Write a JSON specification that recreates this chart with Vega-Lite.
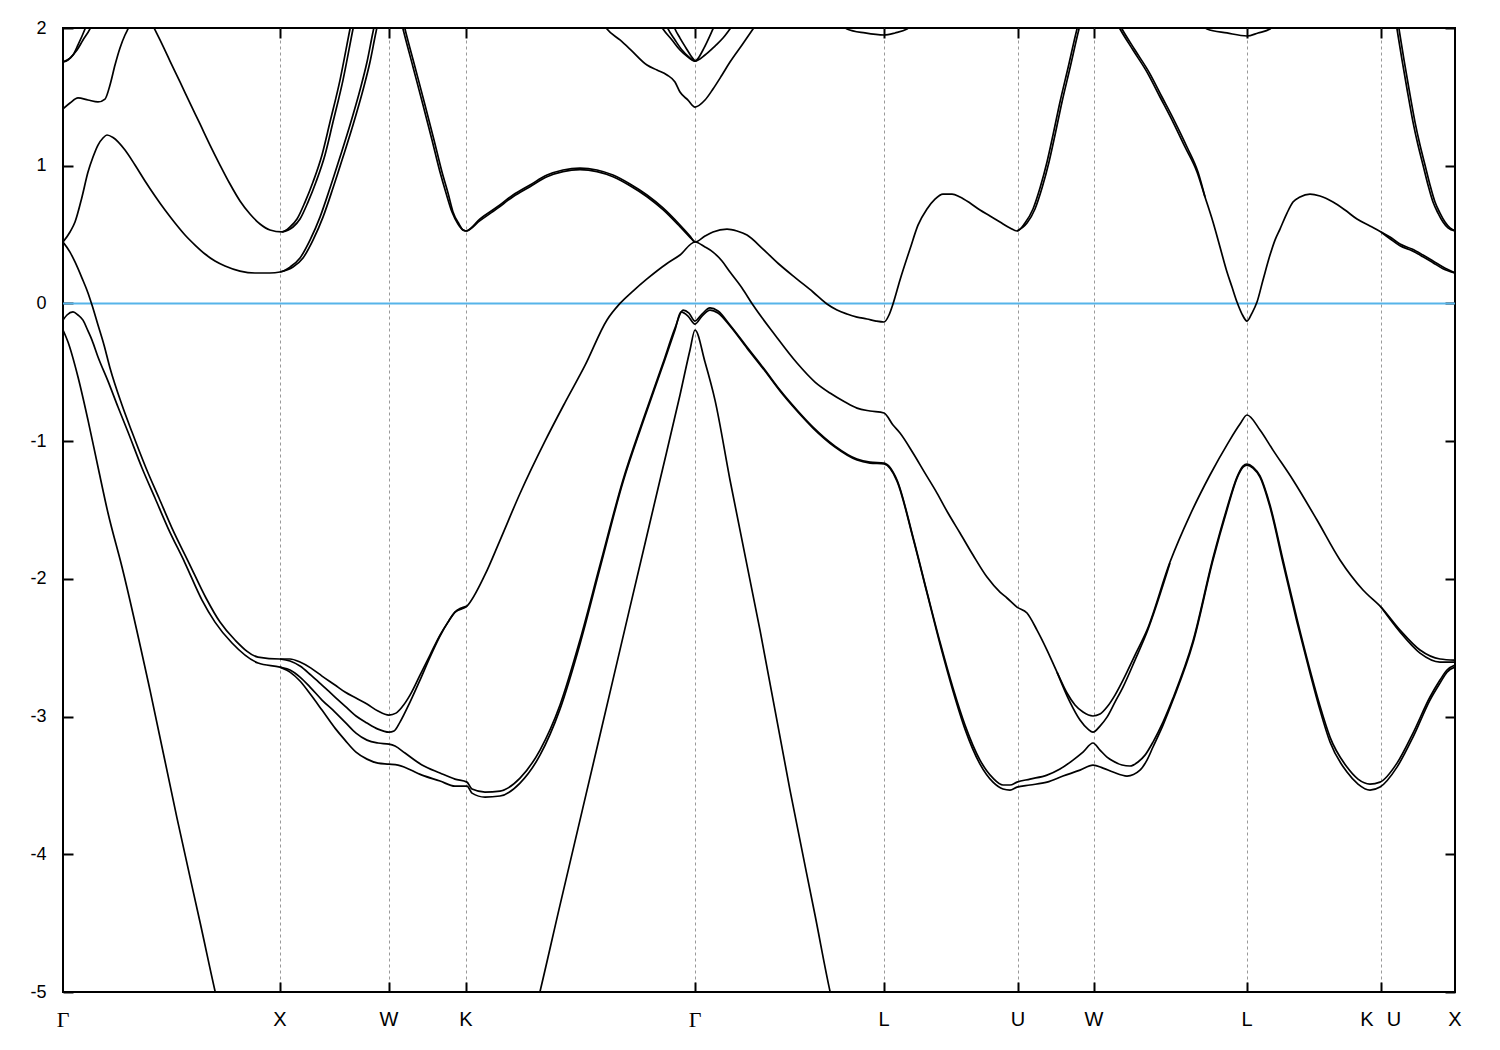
{
"$schema": "https://vega.github.io/schema/vega-lite/v6.json",
"width": 1392, "height": 964,
"autosize": {"type": "none"},
"padding": {"left": 63, "top": 28, "right": 45, "bottom": 58},
"background": "white",
"config": {"view": {"stroke": "#000000", "strokeWidth": 2}},
"data": {"values": [
{"s":"v1","k":0,"E":-0.193},{"s":"v1","k":5,"E":-0.280},{"s":"v1","k":15,"E":-0.534},{"s":"v1","k":25,"E":-0.847},{"s":"v1","k":35,"E":-1.188},{"s":"v1","k":45,"E":-1.522},{"s":"v1","k":59,"E":-1.914},{"s":"v1","k":87,"E":-2.808},{"s":"v1","k":114,"E":-3.737},{"s":"v1","k":137,"E":-4.492},{"s":"v1","k":157,"E":-5.146},{"s":"v1","k":320,"E":-7.5},{"s":"v1","k":472,"E":-5.146},{"s":"v1","k":497,"E":-4.369},{"s":"v1","k":537,"E":-3.134},{"s":"v1","k":567,"E":-2.205},{"s":"v1","k":597,"E":-1.282},{"s":"v1","k":617,"E":-0.665},{"s":"v1","k":627,"E":-0.338},{"s":"v1","k":632,"E":-0.193},{"s":"v1","k":642,"E":-0.426},{"s":"v1","k":652,"E":-0.702},{"s":"v1","k":667,"E":-1.282},{"s":"v1","k":697,"E":-2.372},{"s":"v1","k":727,"E":-3.534},{"s":"v1","k":752,"E":-4.441},{"s":"v1","k":769,"E":-5.059},{"s":"v1","k":782,"E":-5.4},
{"s":"v2","k":0,"E":-0.121},{"s":"v2","k":4,"E":-0.084},{"s":"v2","k":10,"E":-0.062},{"s":"v2","k":15,"E":-0.084},{"s":"v2","k":20,"E":-0.121},{"s":"v2","k":25,"E":-0.200},{"s":"v2","k":29,"E":-0.266},{"s":"v2","k":35,"E":-0.389},{"s":"v2","k":45,"E":-0.564},{"s":"v2","k":55,"E":-0.752},{"s":"v2","k":65,"E":-0.934},{"s":"v2","k":79,"E":-1.195},{"s":"v2","k":92,"E":-1.413},{"s":"v2","k":105,"E":-1.631},{"s":"v2","k":122,"E":-1.885},{"s":"v2","k":139,"E":-2.154},{"s":"v2","k":152,"E":-2.314},{"s":"v2","k":169,"E":-2.466},{"s":"v2","k":195,"E":-2.611},{"s":"v2","k":217,"E":-2.641},{"s":"v2","k":227,"E":-2.662},{"s":"v2","k":237,"E":-2.713},{"s":"v2","k":248,"E":-2.793},{"s":"v2","k":259,"E":-2.880},{"s":"v2","k":272,"E":-2.967},{"s":"v2","k":282,"E":-3.040},{"s":"v2","k":293,"E":-3.120},{"s":"v2","k":304,"E":-3.171},{"s":"v2","k":315,"E":-3.192},{"s":"v2","k":326,"E":-3.200},{"s":"v2","k":332,"E":-3.214},{"s":"v2","k":342,"E":-3.265},{"s":"v2","k":359,"E":-3.352},{"s":"v2","k":377,"E":-3.410},{"s":"v2","k":392,"E":-3.454},{"s":"v2","k":404,"E":-3.476},{"s":"v2","k":409,"E":-3.526},{"s":"v2","k":422,"E":-3.548},{"s":"v2","k":437,"E":-3.541},{"s":"v2","k":457,"E":-3.447},{"s":"v2","k":477,"E":-3.243},{"s":"v2","k":497,"E":-2.916},{"s":"v2","k":517,"E":-2.444},{"s":"v2","k":537,"E":-1.900},{"s":"v2","k":560,"E":-1.282},{"s":"v2","k":580,"E":-0.847},{"s":"v2","k":600,"E":-0.433},{"s":"v2","k":612,"E":-0.179},{"s":"v2","k":620,"E":-0.048},{"s":"v2","k":626,"E":-0.070},{"s":"v2","k":632,"E":-0.128},{"s":"v2","k":639,"E":-0.077},{"s":"v2","k":647,"E":-0.033},{"s":"v2","k":655,"E":-0.055},{"s":"v2","k":667,"E":-0.157},{"s":"v2","k":684,"E":-0.317},{"s":"v2","k":702,"E":-0.484},{"s":"v2","k":717,"E":-0.629},{"s":"v2","k":734,"E":-0.774},{"s":"v2","k":750,"E":-0.898},{"s":"v2","k":772,"E":-1.036},{"s":"v2","k":794,"E":-1.130},{"s":"v2","k":807,"E":-1.152},{"s":"v2","k":821,"E":-1.159},{"s":"v2","k":834,"E":-1.282},{"s":"v2","k":850,"E":-1.696},{"s":"v2","k":864,"E":-2.096},{"s":"v2","k":877,"E":-2.459},{"s":"v2","k":890,"E":-2.793},{"s":"v2","k":902,"E":-3.062},{"s":"v2","k":917,"E":-3.316},{"s":"v2","k":930,"E":-3.447},{"s":"v2","k":940,"E":-3.497},{"s":"v2","k":947,"E":-3.497},{"s":"v2","k":954,"E":-3.476},{"s":"v2","k":967,"E":-3.454},{"s":"v2","k":984,"E":-3.425},{"s":"v2","k":997,"E":-3.381},{"s":"v2","k":1010,"E":-3.316},{"s":"v2","k":1020,"E":-3.258},{"s":"v2","k":1030,"E":-3.192},{"s":"v2","k":1037,"E":-3.243},{"s":"v2","k":1044,"E":-3.294},{"s":"v2","k":1050,"E":-3.323},{"s":"v2","k":1059,"E":-3.352},{"s":"v2","k":1067,"E":-3.359},{"s":"v2","k":1075,"E":-3.330},{"s":"v2","k":1082,"E":-3.280},{"s":"v2","k":1090,"E":-3.185},{"s":"v2","k":1100,"E":-3.040},{"s":"v2","k":1110,"E":-2.866},{"s":"v2","k":1130,"E":-2.452},{"s":"v2","k":1150,"E":-1.849},{"s":"v2","k":1164,"E":-1.486},{"s":"v2","k":1174,"E":-1.261},{"s":"v2","k":1180,"E":-1.181},{"s":"v2","k":1184,"E":-1.166},{"s":"v2","k":1190,"E":-1.188},{"s":"v2","k":1197,"E":-1.253},{"s":"v2","k":1207,"E":-1.464},{"s":"v2","k":1220,"E":-1.863},{"s":"v2","k":1234,"E":-2.292},{"s":"v2","k":1247,"E":-2.662},{"s":"v2","k":1257,"E":-2.924},{"s":"v2","k":1267,"E":-3.149},{"s":"v2","k":1284,"E":-3.367},{"s":"v2","k":1295,"E":-3.454},{"s":"v2","k":1307,"E":-3.490},{"s":"v2","k":1317,"E":-3.476},{"s":"v2","k":1334,"E":-3.338},{"s":"v2","k":1350,"E":-3.120},{"s":"v2","k":1367,"E":-2.858},{"s":"v2","k":1377,"E":-2.735},{"s":"v2","k":1384,"E":-2.662},{"s":"v2","k":1392,"E":-2.626},
{"s":"v3","k":217,"E":-2.641},{"s":"v3","k":227,"E":-2.677},{"s":"v3","k":237,"E":-2.742},{"s":"v3","k":248,"E":-2.844},{"s":"v3","k":259,"E":-2.953},{"s":"v3","k":272,"E":-3.084},{"s":"v3","k":282,"E":-3.171},{"s":"v3","k":293,"E":-3.258},{"s":"v3","k":304,"E":-3.309},{"s":"v3","k":315,"E":-3.338},{"s":"v3","k":326,"E":-3.345},{"s":"v3","k":335,"E":-3.352},{"s":"v3","k":359,"E":-3.425},{"s":"v3","k":377,"E":-3.468},{"s":"v3","k":392,"E":-3.505},{"s":"v3","k":404,"E":-3.505},{"s":"v3","k":409,"E":-3.556},{"s":"v3","k":422,"E":-3.585},{"s":"v3","k":437,"E":-3.577},{"s":"v3","k":457,"E":-3.483},{"s":"v3","k":477,"E":-3.280},{"s":"v3","k":497,"E":-2.946},{"s":"v3","k":517,"E":-2.473},{"s":"v3","k":537,"E":-1.922},{"s":"v3","k":560,"E":-1.297},{"s":"v3","k":580,"E":-0.861},{"s":"v3","k":600,"E":-0.447},{"s":"v3","k":612,"E":-0.193},{"s":"v3","k":618,"E":-0.062},{"s":"v3","k":625,"E":-0.092},{"s":"v3","k":632,"E":-0.150},{"s":"v3","k":639,"E":-0.092},{"s":"v3","k":647,"E":-0.048},{"s":"v3","k":655,"E":-0.070},{"s":"v3","k":667,"E":-0.164},{"s":"v3","k":684,"E":-0.325},{"s":"v3","k":702,"E":-0.491},{"s":"v3","k":717,"E":-0.636},{"s":"v3","k":734,"E":-0.781},{"s":"v3","k":750,"E":-0.905},{"s":"v3","k":772,"E":-1.043},{"s":"v3","k":794,"E":-1.137},{"s":"v3","k":807,"E":-1.159},{"s":"v3","k":821,"E":-1.166},{"s":"v3","k":834,"E":-1.290},{"s":"v3","k":850,"E":-1.704},{"s":"v3","k":864,"E":-2.103},{"s":"v3","k":877,"E":-2.473},{"s":"v3","k":890,"E":-2.814},{"s":"v3","k":902,"E":-3.091},{"s":"v3","k":917,"E":-3.345},{"s":"v3","k":930,"E":-3.476},{"s":"v3","k":940,"E":-3.526},{"s":"v3","k":947,"E":-3.534},{"s":"v3","k":954,"E":-3.512},{"s":"v3","k":967,"E":-3.497},{"s":"v3","k":984,"E":-3.476},{"s":"v3","k":1000,"E":-3.432},{"s":"v3","k":1017,"E":-3.389},{"s":"v3","k":1030,"E":-3.352},{"s":"v3","k":1040,"E":-3.374},{"s":"v3","k":1050,"E":-3.403},{"s":"v3","k":1064,"E":-3.432},{"s":"v3","k":1077,"E":-3.389},{"s":"v3","k":1084,"E":-3.316},{"s":"v3","k":1090,"E":-3.221},{"s":"v3","k":1100,"E":-3.062},{"s":"v3","k":1110,"E":-2.880},{"s":"v3","k":1130,"E":-2.466},{"s":"v3","k":1150,"E":-1.863},{"s":"v3","k":1164,"E":-1.500},{"s":"v3","k":1174,"E":-1.268},{"s":"v3","k":1180,"E":-1.188},{"s":"v3","k":1184,"E":-1.174},{"s":"v3","k":1190,"E":-1.195},{"s":"v3","k":1197,"E":-1.261},{"s":"v3","k":1207,"E":-1.479},{"s":"v3","k":1220,"E":-1.885},{"s":"v3","k":1234,"E":-2.314},{"s":"v3","k":1247,"E":-2.684},{"s":"v3","k":1257,"E":-2.953},{"s":"v3","k":1267,"E":-3.185},{"s":"v3","k":1284,"E":-3.403},{"s":"v3","k":1295,"E":-3.490},{"s":"v3","k":1307,"E":-3.534},{"s":"v3","k":1317,"E":-3.512},{"s":"v3","k":1334,"E":-3.367},{"s":"v3","k":1350,"E":-3.149},{"s":"v3","k":1367,"E":-2.880},{"s":"v3","k":1377,"E":-2.757},{"s":"v3","k":1384,"E":-2.677},{"s":"v3","k":1392,"E":-2.641},
{"s":"v4","k":0,"E":0.446},{"s":"v4","k":7,"E":0.373},{"s":"v4","k":12,"E":0.301},{"s":"v4","k":19,"E":0.184},{"s":"v4","k":25,"E":0.076},{"s":"v4","k":29,"E":-0.012},{"s":"v4","k":35,"E":-0.157},{"s":"v4","k":41,"E":-0.302},{"s":"v4","k":47,"E":-0.469},{"s":"v4","k":59,"E":-0.738},{"s":"v4","k":69,"E":-0.934},{"s":"v4","k":83,"E":-1.195},{"s":"v4","k":96,"E":-1.413},{"s":"v4","k":109,"E":-1.631},{"s":"v4","k":126,"E":-1.885},{"s":"v4","k":143,"E":-2.139},{"s":"v4","k":157,"E":-2.314},{"s":"v4","k":172,"E":-2.444},{"s":"v4","k":195,"E":-2.568},{"s":"v4","k":217,"E":-2.582},{"s":"v4","k":227,"E":-2.582},{"s":"v4","k":237,"E":-2.604},{"s":"v4","k":248,"E":-2.648},{"s":"v4","k":259,"E":-2.706},{"s":"v4","k":272,"E":-2.771},{"s":"v4","k":282,"E":-2.822},{"s":"v4","k":293,"E":-2.866},{"s":"v4","k":304,"E":-2.909},{"s":"v4","k":315,"E":-2.960},{"s":"v4","k":326,"E":-2.989},{"s":"v4","k":333,"E":-2.975},{"s":"v4","k":339,"E":-2.931},{"s":"v4","k":347,"E":-2.844},{"s":"v4","k":357,"E":-2.699},{"s":"v4","k":367,"E":-2.553},{"s":"v4","k":377,"E":-2.408},{"s":"v4","k":385,"E":-2.314},{"s":"v4","k":392,"E":-2.241},{"s":"v4","k":404,"E":-2.198},{"s":"v4","k":422,"E":-1.97},{"s":"v4","k":437,"E":-1.72},{"s":"v4","k":457,"E":-1.38},{"s":"v4","k":482,"E":-1.0},{"s":"v4","k":502,"E":-0.72},{"s":"v4","k":522,"E":-0.45},{"s":"v4","k":544,"E":-0.12},{"s":"v4","k":557,"E":0.0},{"s":"v4","k":570,"E":0.09},{"s":"v4","k":584,"E":0.178},{"s":"v4","k":604,"E":0.29},{"s":"v4","k":617,"E":0.352},{"s":"v4","k":632,"E":0.446},{"s":"v4","k":642,"E":0.410},{"s":"v4","k":650,"E":0.373},{"s":"v4","k":659,"E":0.308},{"s":"v4","k":667,"E":0.228},{"s":"v4","k":679,"E":0.112},{"s":"v4","k":690,"E":-0.012},{"s":"v4","k":712,"E":-0.229},{"s":"v4","k":734,"E":-0.433},{"s":"v4","k":752,"E":-0.571},{"s":"v4","k":767,"E":-0.651},{"s":"v4","k":782,"E":-0.716},{"s":"v4","k":794,"E":-0.760},{"s":"v4","k":807,"E":-0.781},{"s":"v4","k":821,"E":-0.796},{"s":"v4","k":830,"E":-0.883},{"s":"v4","k":837,"E":-0.941},{"s":"v4","k":850,"E":-1.086},{"s":"v4","k":862,"E":-1.232},{"s":"v4","k":874,"E":-1.377},{"s":"v4","k":885,"E":-1.522},{"s":"v4","k":897,"E":-1.667},{"s":"v4","k":910,"E":-1.827},{"s":"v4","k":924,"E":-1.987},{"s":"v4","k":937,"E":-2.096},{"s":"v4","k":944,"E":-2.139},{"s":"v4","k":954,"E":-2.205},{"s":"v4","k":964,"E":-2.248},{"s":"v4","k":974,"E":-2.372},{"s":"v4","k":984,"E":-2.517},{"s":"v4","k":994,"E":-2.677},{"s":"v4","k":1004,"E":-2.829},{"s":"v4","k":1012,"E":-2.916},{"s":"v4","k":1020,"E":-2.967},{"s":"v4","k":1030,"E":-2.996},{"s":"v4","k":1037,"E":-2.982},{"s":"v4","k":1044,"E":-2.931},{"s":"v4","k":1052,"E":-2.844},{"s":"v4","k":1060,"E":-2.735},{"s":"v4","k":1072,"E":-2.553},{"s":"v4","k":1084,"E":-2.372},{"s":"v4","k":1107,"E":-1.878},{"s":"v4","k":1127,"E":-1.537},{"s":"v4","k":1147,"E":-1.246},{"s":"v4","k":1165,"E":-1.014},{"s":"v4","k":1177,"E":-0.876},{"s":"v4","k":1184,"E":-0.810},{"s":"v4","k":1197,"E":-0.919},{"s":"v4","k":1210,"E":-1.065},{"s":"v4","k":1230,"E":-1.282},{"s":"v4","k":1254,"E":-1.573},{"s":"v4","k":1277,"E":-1.863},{"s":"v4","k":1300,"E":-2.081},{"s":"v4","k":1318,"E":-2.205},{"s":"v4","k":1337,"E":-2.372},{"s":"v4","k":1357,"E":-2.517},{"s":"v4","k":1377,"E":-2.582},{"s":"v4","k":1392,"E":-2.590},
{"s":"c2a","k":217,"E":-2.582},{"s":"c2a","k":227,"E":-2.597},{"s":"c2a","k":237,"E":-2.633},{"s":"c2a","k":248,"E":-2.699},{"s":"c2a","k":259,"E":-2.771},{"s":"c2a","k":272,"E":-2.858},{"s":"c2a","k":282,"E":-2.924},{"s":"c2a","k":293,"E":-2.996},{"s":"c2a","k":304,"E":-3.047},{"s":"c2a","k":315,"E":-3.091},{"s":"c2a","k":326,"E":-3.113},{"s":"c2a","k":331,"E":-3.105},{"s":"c2a","k":337,"E":-3.040},{"s":"c2a","k":347,"E":-2.895},{"s":"c2a","k":357,"E":-2.735},{"s":"c2a","k":367,"E":-2.568},{"s":"c2a","k":377,"E":-2.415},{"s":"c2a","k":385,"E":-2.314},{"s":"c2a","k":392,"E":-2.241},{"s":"c2a","k":404,"E":-2.198},
{"s":"c2b","k":994,"E":-2.677},{"s":"c2b","k":1007,"E":-2.895},{"s":"c2b","k":1017,"E":-3.025},{"s":"c2b","k":1025,"E":-3.091},{"s":"c2b","k":1030,"E":-3.113},{"s":"c2b","k":1037,"E":-3.069},{"s":"c2b","k":1044,"E":-3.004},{"s":"c2b","k":1052,"E":-2.895},{"s":"c2b","k":1060,"E":-2.786},{"s":"c2b","k":1072,"E":-2.590},{"s":"c2b","k":1084,"E":-2.386},{"s":"c2b","k":1107,"E":-1.885},
{"s":"c2c","k":1318,"E":-2.205},{"s":"c2c","k":1337,"E":-2.386},{"s":"c2c","k":1357,"E":-2.539},{"s":"c2c","k":1377,"E":-2.604},{"s":"c2c","k":1392,"E":-2.604},
{"s":"A1","k":0,"E":0.446},{"s":"A1","k":7,"E":0.519},{"s":"A1","k":12,"E":0.591},{"s":"A1","k":19,"E":0.773},{"s":"A1","k":25,"E":0.954},{"s":"A1","k":30,"E":1.063},{"s":"A1","k":35,"E":1.150},{"s":"A1","k":40,"E":1.201},{"s":"A1","k":44,"E":1.223},{"s":"A1","k":50,"E":1.205},{"s":"A1","k":62,"E":1.114},{"s":"A1","k":72,"E":1.005},{"s":"A1","k":82,"E":0.889},{"s":"A1","k":92,"E":0.780},{"s":"A1","k":102,"E":0.678},{"s":"A1","k":112,"E":0.584},{"s":"A1","k":122,"E":0.497},{"s":"A1","k":132,"E":0.424},{"s":"A1","k":142,"E":0.359},{"s":"A1","k":152,"E":0.308},{"s":"A1","k":162,"E":0.272},{"s":"A1","k":177,"E":0.235},{"s":"A1","k":192,"E":0.221},{"s":"A1","k":207,"E":0.221},{"s":"A1","k":217,"E":0.228},{"s":"A1","k":227,"E":0.264},{"s":"A1","k":237,"E":0.330},{"s":"A1","k":247,"E":0.460},{"s":"A1","k":257,"E":0.627},{"s":"A1","k":267,"E":0.838},{"s":"A1","k":277,"E":1.063},{"s":"A1","k":287,"E":1.296},{"s":"A1","k":297,"E":1.550},{"s":"A1","k":304,"E":1.753},{"s":"A1","k":310,"E":1.971},{"s":"A1","k":326,"E":2.421},{"s":"A1","k":340,"E":1.993},{"s":"A1","k":350,"E":1.717},{"s":"A1","k":360,"E":1.441},{"s":"A1","k":369,"E":1.187},{"s":"A1","k":377,"E":0.954},{"s":"A1","k":383,"E":0.802},{"s":"A1","k":389,"E":0.664},{"s":"A1","k":395,"E":0.577},{"s":"A1","k":400,"E":0.533},{"s":"A1","k":403,"E":0.526},{"s":"A1","k":417,"E":0.613},{"s":"A1","k":434,"E":0.700},{"s":"A1","k":450,"E":0.787},{"s":"A1","k":467,"E":0.860},{"s":"A1","k":484,"E":0.932},{"s":"A1","k":500,"E":0.969},{"s":"A1","k":517,"E":0.983},{"s":"A1","k":534,"E":0.969},{"s":"A1","k":550,"E":0.932},{"s":"A1","k":567,"E":0.867},{"s":"A1","k":584,"E":0.787},{"s":"A1","k":600,"E":0.693},{"s":"A1","k":617,"E":0.569},{"s":"A1","k":627,"E":0.489},{"s":"A1","k":632,"E":0.446},{"s":"A1","k":642,"E":0.489},{"s":"A1","k":650,"E":0.519},{"s":"A1","k":664,"E":0.540},{"s":"A1","k":674,"E":0.526},{"s":"A1","k":684,"E":0.497},{"s":"A1","k":700,"E":0.395},{"s":"A1","k":717,"E":0.279},{"s":"A1","k":734,"E":0.177},{"s":"A1","k":750,"E":0.083},{"s":"A1","k":764,"E":-0.004},{"s":"A1","k":774,"E":-0.048},{"s":"A1","k":784,"E":-0.077},{"s":"A1","k":794,"E":-0.099},{"s":"A1","k":804,"E":-0.113},{"s":"A1","k":813,"E":-0.128},{"s":"A1","k":821,"E":-0.135},{"s":"A1","k":826,"E":-0.084},{"s":"A1","k":830,"E":-0.004},{"s":"A1","k":837,"E":0.170},{"s":"A1","k":847,"E":0.395},{"s":"A1","k":855,"E":0.569},{"s":"A1","k":864,"E":0.686},{"s":"A1","k":872,"E":0.758},{"s":"A1","k":880,"E":0.794},{"s":"A1","k":889,"E":0.794},{"s":"A1","k":897,"E":0.773},{"s":"A1","k":907,"E":0.729},{"s":"A1","k":917,"E":0.678},{"s":"A1","k":927,"E":0.635},{"s":"A1","k":937,"E":0.591},{"s":"A1","k":947,"E":0.548},{"s":"A1","k":954,"E":0.526},{"s":"A1","k":962,"E":0.584},{"s":"A1","k":970,"E":0.686},{"s":"A1","k":977,"E":0.838},{"s":"A1","k":984,"E":1.027},{"s":"A1","k":990,"E":1.223},{"s":"A1","k":997,"E":1.463},{"s":"A1","k":1005,"E":1.710},{"s":"A1","k":1014,"E":1.993},{"s":"A1","k":1031,"E":2.385},{"s":"A1","k":1057,"E":1.993},{"s":"A1","k":1070,"E":1.840},{"s":"A1","k":1084,"E":1.680},{"s":"A1","k":1097,"E":1.499},{"s":"A1","k":1110,"E":1.317},{"s":"A1","k":1122,"E":1.136},{"s":"A1","k":1134,"E":0.954},{"s":"A1","k":1142,"E":0.773},{"s":"A1","k":1150,"E":0.591},{"s":"A1","k":1157,"E":0.410},{"s":"A1","k":1164,"E":0.228},{"s":"A1","k":1169,"E":0.119},{"s":"A1","k":1174,"E":0.010},{"s":"A1","k":1179,"E":-0.077},{"s":"A1","k":1184,"E":-0.128},{"s":"A1","k":1189,"E":-0.070},{"s":"A1","k":1194,"E":0.010},{"s":"A1","k":1200,"E":0.170},{"s":"A1","k":1207,"E":0.351},{"s":"A1","k":1212,"E":0.460},{"s":"A1","k":1217,"E":0.540},{"s":"A1","k":1224,"E":0.656},{"s":"A1","k":1230,"E":0.736},{"s":"A1","k":1237,"E":0.773},{"s":"A1","k":1247,"E":0.794},{"s":"A1","k":1257,"E":0.780},{"s":"A1","k":1270,"E":0.736},{"s":"A1","k":1282,"E":0.678},{"s":"A1","k":1294,"E":0.613},{"s":"A1","k":1307,"E":0.562},{"s":"A1","k":1318,"E":0.519},{"s":"A1","k":1327,"E":0.482},{"s":"A1","k":1337,"E":0.431},{"s":"A1","k":1349,"E":0.395},{"s":"A1","k":1360,"E":0.351},{"s":"A1","k":1370,"E":0.308},{"s":"A1","k":1380,"E":0.264},{"s":"A1","k":1392,"E":0.221},
{"s":"A2a","k":217,"E":0.228},{"s":"A2a","k":230,"E":0.264},{"s":"A2a","k":240,"E":0.330},{"s":"A2a","k":250,"E":0.460},{"s":"A2a","k":260,"E":0.627},{"s":"A2a","k":270,"E":0.838},{"s":"A2a","k":280,"E":1.063},{"s":"A2a","k":290,"E":1.296},{"s":"A2a","k":300,"E":1.550},{"s":"A2a","k":307,"E":1.753},{"s":"A2a","k":313,"E":1.971},{"s":"A2a","k":329,"E":2.42},{"s":"A2a","k":342,"E":1.993},{"s":"A2a","k":352,"E":1.717},{"s":"A2a","k":362,"E":1.441},{"s":"A2a","k":371,"E":1.187},{"s":"A2a","k":379,"E":0.954},{"s":"A2a","k":385,"E":0.802},{"s":"A2a","k":390,"E":0.664},{"s":"A2a","k":396,"E":0.577},{"s":"A2a","k":400,"E":0.533},{"s":"A2a","k":403,"E":0.526},{"s":"A2a","k":417,"E":0.601},{"s":"A2a","k":434,"E":0.688},{"s":"A2a","k":450,"E":0.775},{"s":"A2a","k":467,"E":0.848},{"s":"A2a","k":484,"E":0.920},{"s":"A2a","k":500,"E":0.957},{"s":"A2a","k":517,"E":0.971},{"s":"A2a","k":534,"E":0.957},{"s":"A2a","k":550,"E":0.920},{"s":"A2a","k":567,"E":0.855},{"s":"A2a","k":584,"E":0.775},{"s":"A2a","k":600,"E":0.681},{"s":"A2a","k":617,"E":0.557},{"s":"A2a","k":627,"E":0.480},{"s":"A2a","k":632,"E":0.446},
{"s":"A2b","k":954,"E":0.526},{"s":"A2b","k":964,"E":0.584},{"s":"A2b","k":972,"E":0.686},{"s":"A2b","k":979,"E":0.838},{"s":"A2b","k":986,"E":1.027},{"s":"A2b","k":992,"E":1.223},{"s":"A2b","k":999,"E":1.463},{"s":"A2b","k":1007,"E":1.710},{"s":"A2b","k":1016,"E":1.993},{"s":"A2b","k":1033,"E":2.385},{"s":"A2b","k":1059,"E":1.993},{"s":"A2b","k":1072,"E":1.840},{"s":"A2b","k":1086,"E":1.680},{"s":"A2b","k":1099,"E":1.499},{"s":"A2b","k":1112,"E":1.317},{"s":"A2b","k":1124,"E":1.136},{"s":"A2b","k":1135,"E":0.954},{"s":"A2b","k":1142,"E":0.773},
{"s":"A2c","k":1318,"E":0.519},{"s":"A2c","k":1327,"E":0.470},{"s":"A2c","k":1337,"E":0.419},{"s":"A2c","k":1349,"E":0.383},{"s":"A2c","k":1360,"E":0.339},{"s":"A2c","k":1370,"E":0.296},{"s":"A2c","k":1380,"E":0.252},{"s":"A2c","k":1392,"E":0.221},
{"s":"B1","k":0,"E":1.412},{"s":"B1","k":7,"E":1.455},{"s":"B1","k":15,"E":1.492},{"s":"B1","k":25,"E":1.477},{"s":"B1","k":35,"E":1.463},{"s":"B1","k":42,"E":1.484},{"s":"B1","k":47,"E":1.586},{"s":"B1","k":52,"E":1.731},{"s":"B1","k":57,"E":1.855},{"s":"B1","k":62,"E":1.949},{"s":"B1","k":65,"E":1.993},{"s":"B1","k":77,"E":2.189},{"s":"B1","k":87,"E":2.058},{"s":"B1","k":97,"E":1.913},{"s":"B1","k":107,"E":1.760},{"s":"B1","k":117,"E":1.608},{"s":"B1","k":127,"E":1.455},{"s":"B1","k":137,"E":1.303},{"s":"B1","k":147,"E":1.150},{"s":"B1","k":157,"E":1.005},{"s":"B1","k":167,"E":0.867},{"s":"B1","k":177,"E":0.744},{"s":"B1","k":187,"E":0.649},{"s":"B1","k":197,"E":0.577},{"s":"B1","k":207,"E":0.533},{"s":"B1","k":219,"E":0.519},{"s":"B1","k":227,"E":0.555},{"s":"B1","k":234,"E":0.613},{"s":"B1","k":242,"E":0.736},{"s":"B1","k":250,"E":0.882},{"s":"B1","k":259,"E":1.078},{"s":"B1","k":267,"E":1.317},{"s":"B1","k":277,"E":1.622},{"s":"B1","k":287,"E":1.993},{"s":"B1","k":297,"E":2.349},{"s":"B1","k":357,"E":3.0},{"s":"B1","k":497,"E":3.0},{"s":"B1","k":544,"E":1.993},{"s":"B1","k":557,"E":1.913},{"s":"B1","k":567,"E":1.847},{"s":"B1","k":584,"E":1.731},{"s":"B1","k":594,"E":1.695},{"s":"B1","k":604,"E":1.659},{"s":"B1","k":612,"E":1.608},{"s":"B1","k":617,"E":1.535},{"s":"B1","k":625,"E":1.477},{"s":"B1","k":632,"E":1.426},{"s":"B1","k":642,"E":1.477},{"s":"B1","k":650,"E":1.557},{"s":"B1","k":659,"E":1.659},{"s":"B1","k":667,"E":1.753},{"s":"B1","k":679,"E":1.877},{"s":"B1","k":690,"E":1.993},{"s":"B1","k":707,"E":2.167},{"s":"B1","k":747,"E":2.4},{"s":"B1","k":784,"E":1.993},{"s":"B1","k":802,"E":1.964},{"s":"B1","k":821,"E":1.949},{"s":"B1","k":832,"E":1.964},{"s":"B1","k":844,"E":1.993},{"s":"B1","k":877,"E":2.3},{"s":"B1","k":1100,"E":2.6},{"s":"B1","k":1144,"E":1.993},{"s":"B1","k":1164,"E":1.964},{"s":"B1","k":1184,"E":1.942},{"s":"B1","k":1195,"E":1.964},{"s":"B1","k":1207,"E":1.993},{"s":"B1","k":1237,"E":2.3},{"s":"B1","k":1327,"E":2.312},{"s":"B1","k":1334,"E":1.993},{"s":"B1","k":1339,"E":1.768},{"s":"B1","k":1344,"E":1.557},{"s":"B1","k":1350,"E":1.317},{"s":"B1","k":1355,"E":1.150},{"s":"B1","k":1360,"E":1.005},{"s":"B1","k":1365,"E":0.860},{"s":"B1","k":1370,"E":0.736},{"s":"B1","k":1375,"E":0.656},{"s":"B1","k":1380,"E":0.591},{"s":"B1","k":1385,"E":0.548},{"s":"B1","k":1392,"E":0.526},
{"s":"B2a","k":219,"E":0.519},{"s":"B2a","k":230,"E":0.555},{"s":"B2a","k":237,"E":0.613},{"s":"B2a","k":245,"E":0.736},{"s":"B2a","k":253,"E":0.882},{"s":"B2a","k":262,"E":1.078},{"s":"B2a","k":270,"E":1.317},{"s":"B2a","k":280,"E":1.622},{"s":"B2a","k":290,"E":1.993},{"s":"B2a","k":300,"E":2.349},
{"s":"B2b","k":1329,"E":2.312},{"s":"B2b","k":1336,"E":1.993},{"s":"B2b","k":1341,"E":1.768},{"s":"B2b","k":1346,"E":1.557},{"s":"B2b","k":1352,"E":1.317},{"s":"B2b","k":1357,"E":1.150},{"s":"B2b","k":1362,"E":1.005},{"s":"B2b","k":1367,"E":0.860},{"s":"B2b","k":1372,"E":0.736},{"s":"B2b","k":1377,"E":0.656},{"s":"B2b","k":1382,"E":0.591},{"s":"B2b","k":1387,"E":0.548},{"s":"B2b","k":1392,"E":0.526},
{"s":"L6","k":0,"E":1.753},{"s":"L6","k":5,"E":1.768},{"s":"L6","k":10,"E":1.804},{"s":"L6","k":15,"E":1.877},{"s":"L6","k":22,"E":1.993},{"s":"L6","k":29,"E":2.131},
{"s":"L7","k":0,"E":1.753},{"s":"L7","k":7,"E":1.782},{"s":"L7","k":14,"E":1.840},{"s":"L7","k":20,"E":1.913},{"s":"L7","k":27,"E":1.993},{"s":"L7","k":34,"E":2.116},
{"s":"G6","k":592,"E":2.094},{"s":"G6","k":600,"E":1.993},{"s":"G6","k":609,"E":1.913},{"s":"G6","k":617,"E":1.840},{"s":"G6","k":625,"E":1.789},{"s":"G6","k":632,"E":1.760},{"s":"G6","k":640,"E":1.840},{"s":"G6","k":645,"E":1.913},{"s":"G6","k":650,"E":1.993},{"s":"G6","k":655,"E":2.073},
{"s":"G7","k":599,"E":2.094},{"s":"G7","k":605,"E":1.993},{"s":"G7","k":612,"E":1.913},{"s":"G7","k":619,"E":1.840},{"s":"G7","k":626,"E":1.789},{"s":"G7","k":632,"E":1.760},{"s":"G7","k":642,"E":1.804},{"s":"G7","k":652,"E":1.869},{"s":"G7","k":660,"E":1.927},{"s":"G7","k":667,"E":1.993},{"s":"G7","k":675,"E":2.073},
{"s":"G8","k":607,"E":2.094},{"s":"G8","k":612,"E":1.993},{"s":"G8","k":617,"E":1.927},{"s":"G8","k":623,"E":1.855},{"s":"G8","k":628,"E":1.797},{"s":"G8","k":632,"E":1.760}
]},
"layer": [
{
"data": {"values": [{"E": 0}]},
"mark": {"type": "rule", "color": "#56B4E9", "strokeWidth": 2},
"encoding": {"y": {"field": "E", "type": "quantitative", "scale": {"domain": [-5, 2], "nice": false, "zero": false}, "axis": null}}
},
{
"mark": {"type": "line", "color": "#000000", "strokeWidth": 1.7, "interpolate": "monotone", "clip": true},
"encoding": {
"x": {"field": "k", "type": "quantitative", "scale": {"domain": [0, 1392], "nice": false, "zero": false},
 "axis": {"orient": "bottom", "values": [217, 326, 403, 632, 821, 955, 1031, 1184, 1318], "labels": false, "ticks": true, "tickSize": -10, "tickWidth": 2, "tickColor": "#000000", "grid": true, "gridDash": [3, 3], "gridColor": "#999999", "gridWidth": 1, "domain": false, "title": null}},
"y": {"field": "E", "type": "quantitative", "scale": {"domain": [-5, 2], "nice": false, "zero": false},
 "axis": {"orient": "left", "values": [-5, -4, -3, -2, -1, 0, 1, 2], "labelExpr": "'' + datum.value", "labelFont": "Liberation Sans", "labelFontSize": 18, "labelColor": "#000000", "labelPadding": 27, "labelFlush": false, "ticks": true, "tickSize": -10, "tickWidth": 2, "tickColor": "#000000", "grid": false, "domain": false, "title": null}},
"detail": {"field": "s", "type": "nominal"}
}
},
{
"data": {"values": [{"k": 0, "E": 0}]},
"mark": {"type": "point", "opacity": 0},
"encoding": {
"x": {"field": "k", "type": "quantitative", "scale": {"domain": [0, 1392], "nice": false, "zero": false},
 "axis": {"orient": "top", "values": [217, 326, 403, 632, 821, 955, 1031, 1184, 1318], "labels": false, "ticks": true, "tickSize": -10, "tickWidth": 2, "tickColor": "#000000", "grid": false, "domain": false, "title": null}},
"y": {"field": "E", "type": "quantitative", "scale": {"domain": [-5, 2], "nice": false, "zero": false},
 "axis": {"orient": "right", "values": [-5, -4, -3, -2, -1, 0, 1, 2], "labels": false, "ticks": true, "tickSize": -10, "tickWidth": 2, "tickColor": "#000000", "grid": false, "domain": false, "title": null}}
}
},
{
"data": {"values": [{"k": 217, "lab": "X"}, {"k": 326, "lab": "W"}, {"k": 403, "lab": "K"}, {"k": 821, "lab": "L"}, {"k": 955, "lab": "U"}, {"k": 1031, "lab": "W"}, {"k": 1184, "lab": "L"}, {"k": 1304, "lab": "K"}, {"k": 1331, "lab": "U"}, {"k": 1392, "lab": "X"}]},
"mark": {"type": "text", "font": "Liberation Sans", "fontSize": 20, "baseline": "middle", "align": "center", "dy": 28, "color": "#000000"},
"encoding": {
"x": {"field": "k", "type": "quantitative", "scale": {"domain": [0, 1392], "nice": false, "zero": false}, "axis": null},
"y": {"datum": -5, "type": "quantitative", "scale": {"domain": [-5, 2], "nice": false, "zero": false}, "axis": null},
"text": {"field": "lab"}
}
},
{
"data": {"values": [{"k": 0, "lab": "Γ"}, {"k": 632, "lab": "Γ"}]},
"mark": {"type": "text", "font": "Liberation Serif", "fontSize": 22, "baseline": "middle", "align": "center", "dy": 28, "color": "#000000"},
"encoding": {
"x": {"field": "k", "type": "quantitative", "scale": {"domain": [0, 1392], "nice": false, "zero": false}, "axis": null},
"y": {"datum": -5, "type": "quantitative", "scale": {"domain": [-5, 2], "nice": false, "zero": false}, "axis": null},
"text": {"field": "lab"}
}
}
],
"resolve": {"axis": {"x": "independent", "y": "independent"}}
}
